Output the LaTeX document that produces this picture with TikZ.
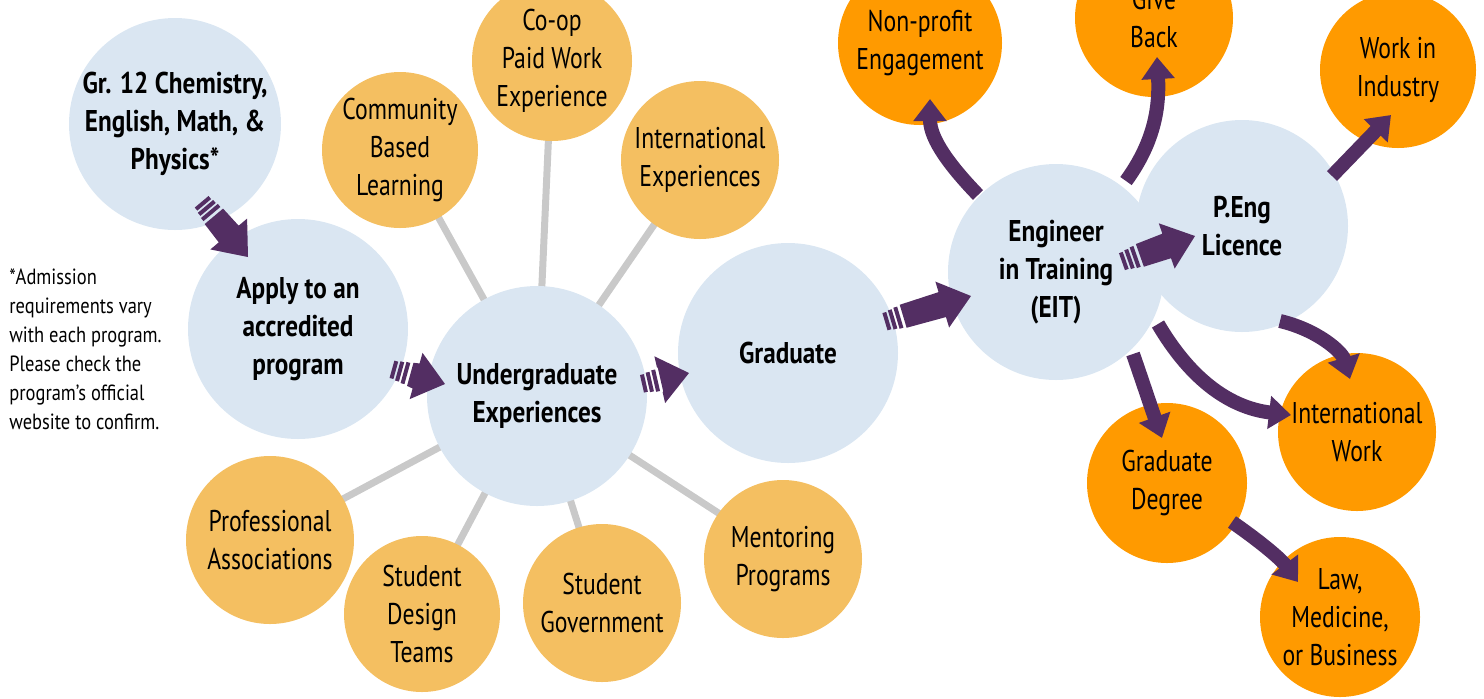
\documentclass[tikz,border=0pt]{standalone}
\usepackage{fontspec}
\setmainfont[FakeStretch=0.79]{PT Sans}
\newfontfamily\widefam[FakeStretch=0.84]{PT Sans}
\usetikzlibrary{calc,arrows.meta}
\definecolor{lblue}{HTML}{DAE6F2}
\definecolor{lorange}{HTML}{F4BF61}
\definecolor{dorange}{HTML}{FF9A00}
\definecolor{purp}{HTML}{532E63}
\definecolor{lgrey}{HTML}{C9C9C9}
\newcommand\stripedarrow[2]{%
  \coordinate (sa1) at ($(#1)!1.5pt!(#2)$);
  \coordinate (sa2) at ($(#1)!4.5pt!(#2)$);
  \coordinate (sa3) at ($(#1)!7.5pt!(#2)$);
  \coordinate (saS) at ($(#1)!10pt!(#2)$);
  \coordinate (saH) at ($(#2)!15pt!(#1)$);
  \draw[stripeln] ($(sa1)!4.5pt!90:(#2)$) -- ($(sa1)!4.5pt!-90:(#2)$);
  \draw[stripeln] ($(sa2)!5pt!90:(#2)$) -- ($(sa2)!5pt!-90:(#2)$);
  \draw[stripeln] ($(sa3)!5.5pt!90:(#2)$) -- ($(sa3)!5.5pt!-90:(#2)$);
  \fill[purp] ($(saS)!6pt!90:(#2)$) -- ($(saH)!6.5pt!90:(#2)$) -- ($(saH)!12pt!90:(#2)$) -- (#2)
     -- ($(saH)!12pt!-90:(#2)$) -- ($(saH)!6.5pt!-90:(#2)$) -- ($(saS)!6pt!-90:(#2)$) -- cycle;
}
\begin{document}
\begin{tikzpicture}[x=0.5pt,y=-0.5pt,
  bub/.style={circle,inner sep=0pt,align=center,font=\fontsize{15}{19}\selectfont},
  bluebub/.style={bub,fill=lblue,font=\fontsize{15}{19}\selectfont\widefam\bfseries},
  lobub/.style={bub,fill=lorange},
  dobub/.style={bub,fill=dorange},
  spoke/.style={draw=lgrey,line width=3.5pt},
  stripeln/.style={draw=purp,line width=2pt},
  carrow/.style={draw=purp,line width=7pt,-{Triangle[width=16pt,length=11pt]}}]
\useasboundingbox (0,0) rectangle (1484,698);
\clip (0,0) rectangle (1484,698);

% spokes (behind)
\coordinate (uc) at (537,395);
\foreach \p in {(400,148),(552,60),(700,158),(270,538),(422,612),(602,600),(783,555)}
  \draw[spoke] (uc) -- \p;

% blue circles
\node[bluebub,minimum size=106pt] (gr) at (175,124) {Gr. 12 Chemistry,\\English, Math, \&\\Physics*};
\node[bluebub,minimum size=110pt] (apply) at (298,329) {Apply to an\\accredited\\program};
\node[bluebub,minimum size=110pt] (under) at (537,396) {Undergraduate\\Experiences};
\node[bluebub,minimum size=110pt] (grad) at (788,353) {Graduate};
\node[bluebub,minimum size=108pt] (eit) at (1056,272) {Engineer\\in Training\\(EIT)};
\node[bluebub,minimum size=106pt] (peng) at (1242,226) {P.Eng\\Licence};

% light orange circles
\node[lobub,minimum size=78pt] (cbl) at (400,150) {Community\\Based\\Learning};
\node[lobub,minimum size=80pt] (coop) at (552,61) {Co-op\\Paid Work\\Experience};
\node[lobub,minimum size=79pt] (intexp) at (700,160) {International\\Experiences};
\node[lobub,minimum size=84pt] (prof) at (270,540) {Professional\\Associations};
\node[lobub,minimum size=78pt] (sdt) at (422,614) {Student\\Design\\Teams};
\node[lobub,minimum size=79pt] (sgov) at (602,603) {Student\\Government};
\node[lobub,minimum size=79pt] (ment) at (783,559) {Mentoring\\Programs};

% dark orange circles
\node[dobub,minimum size=82pt] (npe) at (920,43) {Non-profit\\Engagement};
\node[dobub,minimum size=79pt] (give) at (1154,18) {Give\\Back};
\node[dobub,minimum size=78pt] (wii) at (1398,70) {Work in\\Industry};
\node[dobub,minimum size=79pt] (iw) at (1357,432) {International\\Work};
\node[dobub,minimum size=80pt] (gd) at (1167,483) {Graduate\\Degree};
\node[dobub,minimum size=80pt] (law) at (1340,617) {Law,\\Medicine,\\or Business};

% footnote
\node[anchor=north west,align=left,inner sep=0pt,font=\fontsize{11}{14.5}\selectfont\widefam] (note) at (9,268)
 {*Admission\\requirements vary\\with each program.\\Please check the\\program’s official\\website to confirm.};

% striped arrows
\coordinate (t1) at (201,201); \coordinate (h1) at (248,257);
\coordinate (t2) at (391,369); \coordinate (h2) at (445,384);
\coordinate (t3) at (641,384); \coordinate (h3) at (689,373);
\coordinate (t4) at (884,322); \coordinate (h4) at (971,296);
\coordinate (t5) at (1121,262); \coordinate (h5) at (1195,236);
\stripedarrow{t1}{h1}
\stripedarrow{t2}{h2}
\stripedarrow{t3}{h3}
\stripedarrow{t4}{h4}
\stripedarrow{t5}{h5}

% curved arrows
\coordinate (c1) at (978,195); \coordinate (e1) at (930,99);
\draw[carrow] (c1) .. controls (952,168) and (930,140) .. (e1);
\coordinate (c2) at (1126,181); \coordinate (e2) at (1157,57);
\draw[carrow] (c2) .. controls (1150,148) and (1160,115) .. (e2);
\coordinate (c3) at (1332,176); \coordinate (e3) at (1391,115);
\draw[carrow] (c3) -- (e3);
\coordinate (c4) at (1280,321); \coordinate (e4) at (1350,379);
\draw[carrow] (c4) .. controls (1318,330) and (1342,352) .. (e4);
\coordinate (c5) at (1158,324); \coordinate (e5) at (1291,415);
\draw[carrow] (c5) .. controls (1192,382) and (1232,408) .. (e5);
\coordinate (c6) at (1133,354); \coordinate (e6) at (1162,438);
\draw[carrow] (c6) .. controls (1142,380) and (1152,410) .. (e6);
\coordinate (c7) at (1232,522); \coordinate (e7) at (1298,582);
\draw[carrow] (c7) .. controls (1258,540) and (1280,558) .. (e7);
\end{tikzpicture}
\end{document}
